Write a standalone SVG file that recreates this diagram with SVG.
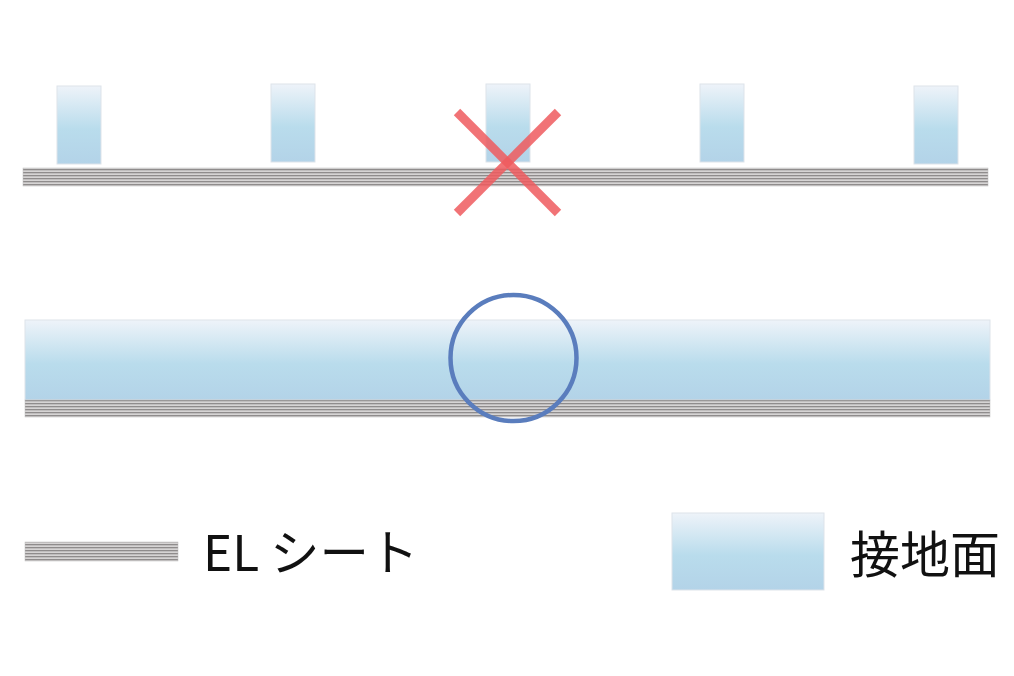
<svg xmlns="http://www.w3.org/2000/svg" width="1014" height="676" viewBox="0 0 1014 676">
<defs>
<linearGradient id="blue" x1="0" y1="0" x2="0" y2="1">
<stop offset="0" stop-color="#eef3f9"/>
<stop offset="0.55" stop-color="#b9dcec"/>
<stop offset="1" stop-color="#b3d3e8"/>
</linearGradient>
<pattern id="stripes" width="8" height="3" patternUnits="userSpaceOnUse">
<rect width="8" height="3" fill="#d6d4d4"/>
<rect y="1" width="8" height="1.3" fill="#8f8c8c"/>
</pattern>
<style>
.pad{fill:url(#blue);stroke:#dde3ea;stroke-width:1}
.sheet{fill:url(#stripes);stroke:#bdbaba;stroke-width:0.5}
.lbl{font-family:"Noto Sans CJK JP","Noto Sans",sans-serif;fill:#111}
</style>
</defs>
<rect width="1014" height="676" fill="#ffffff"/>
<g id="top-sheet"><rect class="sheet" x="23" y="168" width="965" height="18"/></g>
<g id="pad1"><rect class="pad" x="57" y="86" width="44" height="78"/></g>
<g id="pad2"><rect class="pad" x="271" y="84" width="44" height="78"/></g>
<g id="pad3"><rect class="pad" x="486" y="84" width="44" height="78"/></g>
<g id="pad4"><rect class="pad" x="700" y="84" width="44" height="78"/></g>
<g id="pad5"><rect class="pad" x="914" y="86" width="44" height="78"/></g>
<g id="cross" stroke="#ef5a5e" stroke-width="9" stroke-opacity="0.85">
<line x1="457" y1="112" x2="558" y2="213"/>
<line x1="558" y1="112" x2="457" y2="213"/>
</g>
<g id="bottom-pad"><rect class="pad" x="25" y="320" width="965" height="80"/></g>
<g id="bottom-sheet"><rect class="sheet" x="25" y="400" width="965" height="17"/></g>
<g id="circle"><circle cx="513.5" cy="358" r="63" fill="none" stroke="#5a7dbd" stroke-width="4.5"/></g>
<g id="legend-sheet"><rect class="sheet" x="25" y="542" width="153" height="19"/>
<text class="lbl" x="203" y="571" font-size="49.5">EL シート</text></g>
<g id="legend-pad"><rect class="pad" x="672" y="513" width="152" height="77"/>
<text class="lbl" x="850" y="573" font-size="50">接地面</text></g>
</svg>
